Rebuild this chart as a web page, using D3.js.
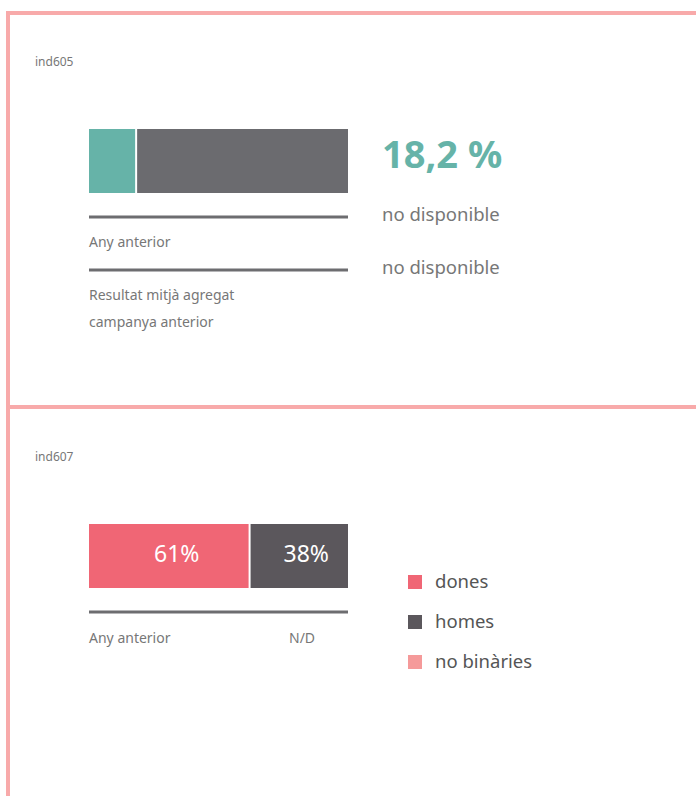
<!DOCTYPE html>
<html>
<head>
  <meta charset="utf-8">
  <title>ind605 / ind607</title>
  <style>
    html, body { margin: 0; padding: 0; background: #fff; }
    body { font-family: "Noto Sans", "Open Sans", sans-serif; }
    svg { display: block; }
  </style>
</head>
<body>
  <svg width="696" height="796"></svg>
  <script src="https://d3js.org/d3.v7.min.js"></script>
  <script>
    // ind605
    const shareLabels = ["valor", "resta"];
    const shareValues = [18.2, 81.8];
    const shareColors = ["#66b3a8", "#6b6b6f"];
    const headline = "18,2 %";
    const compareLabels = ["Any anterior", "Resultat mitjà agregat\ncampanya anterior"];
    const compareValues = ["no disponible", "no disponible"];

    // ind607
    const genders = ["dones", "homes", "no binàries"];
    const genderValues = [61, 38, 0];
    const genderColors = ["#f06675", "#5b575c", "#f59a9a"];
    const prevLabel = "Any anterior";
    const prevValue = "N/D";

    const svg = d3.select("svg");
    const border = "#f8aaaa";
    const textGray = "#777";

    // panel frames
    svg.append("rect").attr("x", 8).attr("y", 13).attr("width", 720).attr("height", 394)
      .attr("fill", "none").attr("stroke", border).attr("stroke-width", 4);
    svg.append("rect").attr("x", 8).attr("y", 407).attr("width", 720).attr("height", 420)
      .attr("fill", "none").attr("stroke", border).attr("stroke-width", 4);

    // stacked segments with a 2px white gap between them
    function stack(values) {
      let acc = 0;
      return values.map((v, i) => { const s = { v, i, x0: acc }; acc += v; return s; })
        .filter(d => d.v > 0);
    }

    // ---------- panel 1 ----------
    svg.append("text").attr("x", 35).attr("y", 66).attr("font-size", 12)
      .attr("fill", textGray).text("ind605");

    const x1 = d3.scaleLinear().domain([0, d3.sum(shareValues)]).range([89, 348]);
    svg.selectAll("rect.s1").data(stack(shareValues)).enter().append("rect")
      .attr("x", d => x1(d.x0) + (d.i ? 1 : 0))
      .attr("y", 129)
      .attr("width", d => x1(d.x0 + d.v) - x1(d.x0) - 1)
      .attr("height", 64)
      .attr("fill", d => shareColors[d.i]);

    svg.append("text").attr("x", 382).attr("y", 168).attr("font-size", 38)
      .attr("font-weight", 700).attr("fill", shareColors[0]).text(headline);

    const rowY = [217, 270];
    compareLabels.forEach((lab, i) => {
      svg.append("line").attr("x1", x1.range()[0]).attr("x2", x1.range()[1])
        .attr("y1", rowY[i]).attr("y2", rowY[i])
        .attr("stroke", "#6d6d70").attr("stroke-width", 3);
      lab.split("\n").forEach((ln, j) => {
        svg.append("text").attr("x", 89).attr("y", rowY[i] + 30 + j * 27)
          .attr("font-size", 14).attr("fill", textGray).text(ln);
      });
      svg.append("text").attr("x", 382).attr("y", rowY[i] + 4)
        .attr("font-size", 18.5).attr("fill", textGray).text(compareValues[i]);
    });

    // ---------- panel 2 ----------
    svg.append("text").attr("x", 35).attr("y", 461).attr("font-size", 12)
      .attr("fill", textGray).text("ind607");

    const x2 = d3.scaleLinear().domain([0, d3.sum(genderValues)]).range([89, 348]);
    const g2 = svg.selectAll("g.s2").data(stack(genderValues)).enter().append("g");
    g2.append("rect")
      .attr("x", d => x2(d.x0) + (d.i ? 2 : 0))
      .attr("y", 524)
      .attr("width", d => x2(d.x0 + d.v) - x2(d.x0) - (d.i ? 2 : 0))
      .attr("height", 64)
      .attr("fill", d => genderColors[d.i]);
    g2.append("text")
      .attr("x", d => (x2(d.x0) + x2(d.x0 + d.v)) / 2 + 8)
      .attr("y", 562)
      .attr("text-anchor", "middle")
      .attr("font-size", 23).attr("fill", "#fff")
      .text(d => d.v + "%");

    svg.append("line").attr("x1", 89).attr("x2", 348).attr("y1", 612).attr("y2", 612)
      .attr("stroke", "#6d6d70").attr("stroke-width", 3);
    svg.append("text").attr("x", 89).attr("y", 643).attr("font-size", 14)
      .attr("fill", textGray).text(prevLabel);
    svg.append("text").attr("x", 289).attr("y", 643).attr("font-size", 14)
      .attr("fill", textGray).text(prevValue);

    const legend = svg.selectAll("g.leg").data(genders).enter().append("g")
      .attr("transform", (d, i) => `translate(408,${575 + i * 40})`);
    legend.append("rect").attr("width", 14).attr("height", 14)
      .attr("fill", (d, i) => genderColors[i]);
    legend.append("text").attr("x", 27).attr("y", 13).attr("font-size", 18.5)
      .attr("fill", "#555").text(d => d);
  </script>
</body>
</html>
